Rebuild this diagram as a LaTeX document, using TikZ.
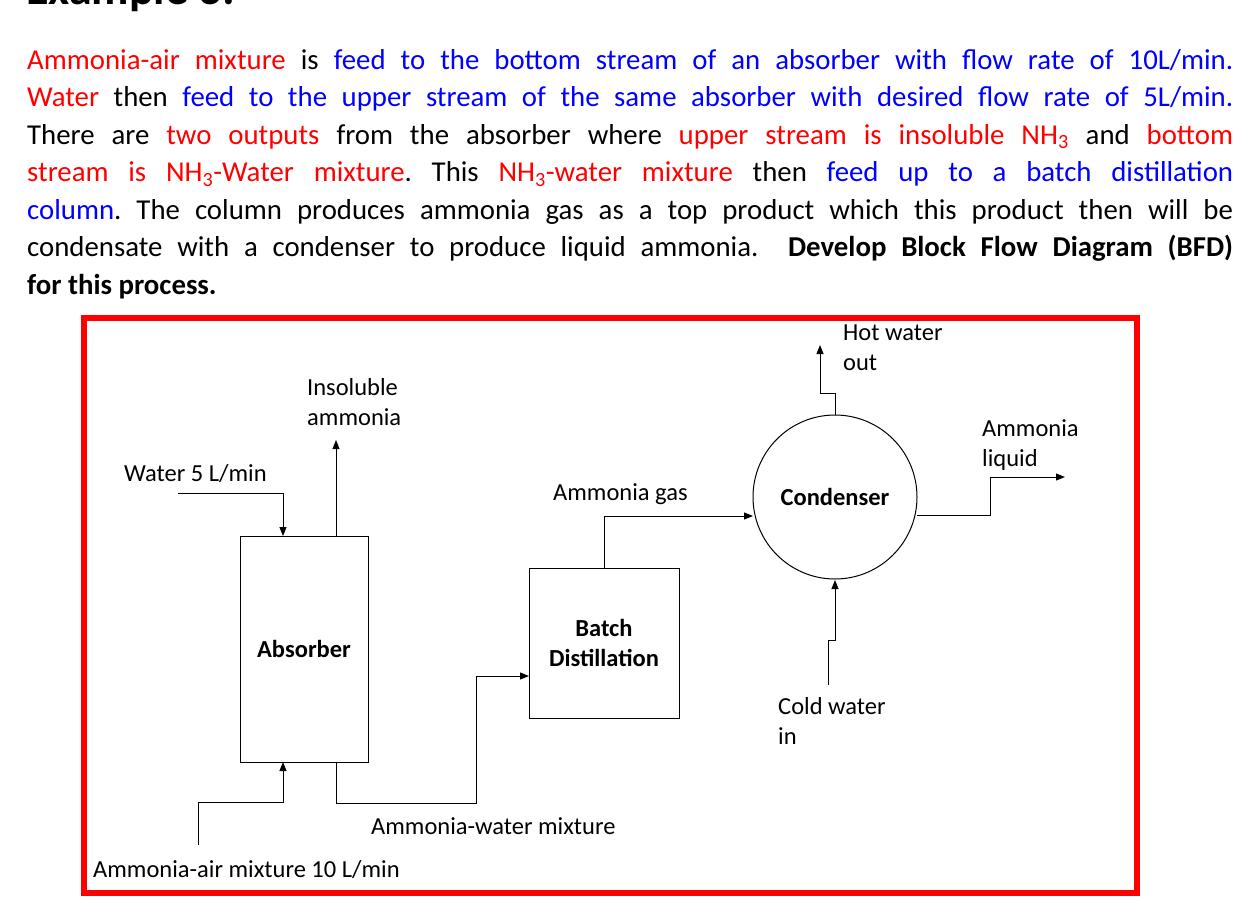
\documentclass[tikz,border=0pt]{standalone}
\usepackage{fontspec}
\setmainfont{Carlito}
\usetikzlibrary{arrows.meta}
\definecolor{rd}{RGB}{255,0,0}
\definecolor{bl}{RGB}{0,0,255}
\newcommand{\R}[1]{\textcolor{rd}{#1}}
\newcommand{\B}[1]{\textcolor{bl}{#1}}
\hfuzz=50pt
\frenchspacing
\begin{document}
\begin{tikzpicture}[x=1pt,y=-1pt,
  lbl/.style={anchor=base west,inner sep=0pt,font=\fontsize{24.5}{30}\selectfont,align=left},
  unit/.style={draw,line width=1pt,inner sep=0pt},
  flow/.style={line width=1pt,-{Triangle[length=9pt,width=7pt]}}]
\useasboundingbox (0,0) rectangle (1245,905);
\node[anchor=base west,inner sep=0pt,font=\fontsize{46}{48}\selectfont\bfseries] (title) at (26,4) {Example 3:};
\node[anchor=north west,inner sep=0pt,text width=1206pt,align=justify,font=\fontsize{28.8}{37.5}\selectfont\frenchspacing] (para) at (27,49) {%
\R{Ammonia-air mixture} is \B{feed to the bottom stream of an absorber with flow rate of 10L/min.}\linebreak
\R{Water} then \B{feed to the upper stream of the same absorber with desired flow rate of 5L/min.}\linebreak
There are \R{two outputs} from the absorber where \R{upper stream is insoluble NH\textsubscript{3}} and \R{bottom}\linebreak
\R{stream is NH\textsubscript{3}-Water mixture}. This \R{NH\textsubscript{3}-water mixture} then \B{feed up to a batch distillation}\linebreak
\B{column}. The column produces ammonia gas as a top product which this product then will be\linebreak
condensate with a condenser to produce liquid ammonia.\ \ \textbf{Develop Block Flow Diagram (BFD)}\linebreak
\textbf{for this process.}\par};
\draw[rd,line width=6pt] (84,318) rectangle (1137,893);
% units
\node[unit,minimum width=128pt,minimum height=226pt] (abs) at (304,649) {};
\node[font=\fontsize{24.5}{28}\selectfont\bfseries] (absl) at (304,649) {Absorber};
\node[unit,minimum width=150pt,minimum height=150pt,align=center,font=\fontsize{24.5}{30}\selectfont\bfseries] (bd) at (604,643) {Batch\\Distillation};
\node[unit,circle,minimum size=164pt,font=\fontsize{24.5}{28}\selectfont\bfseries] (cd) at (835,497) {Condenser};
% coordinates
\coordinate (w0) at (178,493);
\coordinate (ins) at (336,440);
\coordinate (f0) at (198,845);
\coordinate (hw) at (820,345);
\coordinate (cw) at (828,685);
\coordinate (al) at (1065,477);
% connectors
\draw[flow] (w0) -- (283,493) -- (283,536);
\draw[flow] (336,536) -- (ins);
\draw[flow] (f0) -- (198,802) -- (283,802) -- (283,762);
\draw[flow] (336,762) -- (336,803) -- (476,803) -- (476,676) -- (529,676);
\draw[flow] (604,568) -- (604,516) -- (753,516);
\draw[flow] (835,415) -- (835,393) -- (820,393) -- (hw);
\draw[flow] (cw) -- (828,640) -- (835,640) -- (835,580);
\draw[flow] (917,515) -- (990,515) -- (990,477) -- (al);
% labels
\node[lbl] (l1) at (307,425) {Insoluble\\ammonia};
\node[lbl] (l2) at (124,481) {Water 5 L/min};
\node[lbl] (l3) at (553,500) {Ammonia gas};
\node[lbl] (l4) at (843,370) {Hot water\\out};
\node[lbl] (l5) at (982,466) {Ammonia\\liquid};
\node[lbl] (l6) at (778,744) {Cold water\\in};
\node[lbl] (l7) at (371,834) {Ammonia-water mixture};
\node[lbl] (l8) at (93,877) {Ammonia-air mixture 10 L/min};
\end{tikzpicture}
\end{document}
